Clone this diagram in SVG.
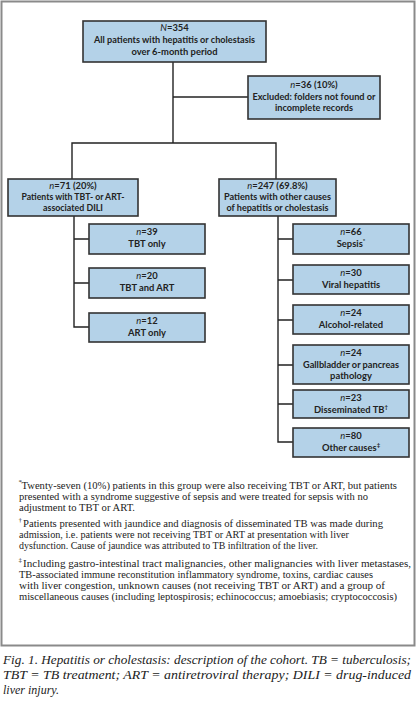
<svg xmlns="http://www.w3.org/2000/svg" width="417" height="709" viewBox="0 0 417 709">
<style>
.box{fill:#b4d2e8;stroke:#333;stroke-width:1.6}
.bt{font-family:Lato,"Liberation Sans",sans-serif;font-weight:700;font-size:9.4px;fill:#222;text-anchor:middle}
.it{font-style:italic;font-weight:400}
.sup{font-size:6px}
.con{fill:none;stroke:#222;stroke-width:1.4}
.fn{font-family:"Liberation Serif","Times New Roman",serif;font-size:10.4px;fill:#222}
.fs{font-family:"Liberation Serif",serif;font-size:7px;fill:#222}
.cap{font-family:"Liberation Serif","Times New Roman",serif;font-style:italic;font-size:13.2px;fill:#222}
</style>
<rect x="0" y="0" width="417" height="709" fill="#fff"/>
<rect x="1.5" y="1.5" width="413" height="644" fill="none" stroke="#8a8a8a" stroke-width="2"/>

<g id="connectors">
<path class="con" d="M173,62 V143"/>
<path class="con" d="M173,97 H248"/>
<path class="con" d="M72,179 V143 H276 V179"/>
<path class="con" d="M74,216 V327 H89 M74,239 H89 M74,283 H89"/>
<path class="con" d="M278,216 V442 H293 M278,239 H293 M278,280 H293 M278,320 H293 M278,365 H293 M278,404 H293"/>
</g>

<g id="n354">
<rect class="box" x="83" y="21" width="183" height="41"/>
<text class="bt" x="174.5" y="31"><tspan class="it">N</tspan>=354</text>
<text class="bt" x="174.5" y="43" textLength="161" lengthAdjust="spacingAndGlyphs">All patients with hepatitis or cholestasis</text>
<text class="bt" x="174.5" y="55" textLength="86" lengthAdjust="spacingAndGlyphs">over 6-month period</text>
</g>

<g id="excluded">
<rect class="box" x="248" y="76" width="132" height="43"/>
<text class="bt" x="314" y="88"><tspan class="it">n</tspan>=36 (10%)</text>
<text class="bt" x="314" y="100" textLength="123" lengthAdjust="spacingAndGlyphs">Excluded: folders not found or</text>
<text class="bt" x="314" y="111" textLength="78" lengthAdjust="spacingAndGlyphs">incomplete records</text>
</g>

<g id="dili">
<rect class="box" x="8" y="179" width="130" height="37"/>
<text class="bt" x="73" y="189"><tspan class="it">n</tspan>=71 (20%)</text>
<text class="bt" x="73" y="200" textLength="103" lengthAdjust="spacingAndGlyphs">Patients with TBT- or ART-</text>
<text class="bt" x="73" y="211" textLength="60" lengthAdjust="spacingAndGlyphs">associated DILI</text>
</g>

<g id="other">
<rect class="box" x="219" y="179" width="117" height="37"/>
<text class="bt" x="277.5" y="189"><tspan class="it">n</tspan>=247 (69.8%)</text>
<text class="bt" x="277.5" y="200" textLength="107" lengthAdjust="spacingAndGlyphs">Patients with other causes</text>
<text class="bt" x="277.5" y="211" textLength="102" lengthAdjust="spacingAndGlyphs">of hepatitis or cholestasis</text>
</g>

<g id="tbt-only">
<rect class="box" x="89" y="224" width="116" height="30"/>
<text class="bt" x="147" y="235"><tspan class="it">n</tspan>=39</text>
<text class="bt" x="147" y="247">TBT only</text>
</g>

<g id="tbt-art">
<rect class="box" x="89" y="268" width="116" height="30"/>
<text class="bt" x="147" y="279"><tspan class="it">n</tspan>=20</text>
<text class="bt" x="147" y="291">TBT and ART</text>
</g>

<g id="art-only">
<rect class="box" x="89" y="313" width="116" height="29"/>
<text class="bt" x="147" y="324"><tspan class="it">n</tspan>=12</text>
<text class="bt" x="147" y="336">ART only</text>
</g>

<g id="sepsis">
<rect class="box" x="293" y="224" width="116" height="30"/>
<text class="bt" x="351" y="235"><tspan class="it">n</tspan>=66</text>
<text class="bt" x="351" y="247">Sepsis<tspan class="sup" dy="-4">*</tspan></text>
</g>

<g id="viral">
<rect class="box" x="293" y="265" width="116" height="29"/>
<text class="bt" x="351" y="276"><tspan class="it">n</tspan>=30</text>
<text class="bt" x="351" y="288">Viral hepatitis</text>
</g>

<g id="alcohol">
<rect class="box" x="293" y="305" width="116" height="29"/>
<text class="bt" x="351" y="316"><tspan class="it">n</tspan>=24</text>
<text class="bt" x="351" y="328">Alcohol-related</text>
</g>

<g id="gallbladder">
<rect class="box" x="293" y="345" width="116" height="39"/>
<text class="bt" x="351" y="356"><tspan class="it">n</tspan>=24</text>
<text class="bt" x="351" y="368" textLength="96" lengthAdjust="spacingAndGlyphs">Gallbladder or pancreas</text>
<text class="bt" x="351" y="379">pathology</text>
</g>

<g id="disseminated">
<rect class="box" x="293" y="390" width="116" height="28"/>
<text class="bt" x="351" y="401"><tspan class="it">n</tspan>=23</text>
<text class="bt" x="351" y="413">Disseminated TB<tspan class="sup" dy="-4">†</tspan></text>
</g>

<g id="othercauses">
<rect class="box" x="293" y="428" width="116" height="29"/>
<text class="bt" x="351" y="439"><tspan class="it">n</tspan>=80</text>
<text class="bt" x="351" y="451">Other causes<tspan class="sup" dy="-4">‡</tspan></text>
</g>

<g id="footnotes">
<text class="fs" x="18.5" y="484">*</text>
<text class="fn" x="21.5" y="489" textLength="375.5" lengthAdjust="spacingAndGlyphs">Twenty-seven (10%) patients in this group were also receiving TBT or ART, but patients</text>
<text class="fn" x="19" y="500" textLength="349" lengthAdjust="spacingAndGlyphs">presented with a syndrome suggestive of sepsis and were treated for sepsis with no</text>
<text class="fn" x="19" y="511" textLength="116" lengthAdjust="spacingAndGlyphs">adjustment to TBT or ART.</text>
<text class="fs" x="18.5" y="522">†</text>
<text class="fn" x="23" y="527" textLength="360" lengthAdjust="spacingAndGlyphs">Patients presented with jaundice and diagnosis of disseminated TB was made during</text>
<text class="fn" x="19" y="538" textLength="330" lengthAdjust="spacingAndGlyphs">admission, i.e. patients were not receiving TBT or ART at presentation with liver</text>
<text class="fn" x="19" y="549" textLength="299" lengthAdjust="spacingAndGlyphs">dysfunction. Cause of jaundice was attributed to TB infiltration of the liver.</text>
<text class="fs" x="18.5" y="562">‡</text>
<text class="fn" x="23" y="567" textLength="388" lengthAdjust="spacingAndGlyphs">Including gastro-intestinal tract malignancies, other malignancies with liver metastases,</text>
<text class="fn" x="19" y="578" textLength="354" lengthAdjust="spacingAndGlyphs">TB-associated immune reconstitution inflammatory syndrome, toxins, cardiac causes</text>
<text class="fn" x="19" y="589" textLength="366" lengthAdjust="spacingAndGlyphs">with liver congestion, unknown causes (not receiving TBT or ART) and a group of</text>
<text class="fn" x="19" y="600" textLength="378" lengthAdjust="spacingAndGlyphs">miscellaneous causes (including leptospirosis; echinococcus; amoebiasis; cryptococcosis)</text>
</g>

<g id="caption">
<text class="cap" x="3" y="664" textLength="408" lengthAdjust="spacingAndGlyphs">Fig. 1. Hepatitis or cholestasis: description of the cohort. TB = tuberculosis;</text>
<text class="cap" x="3" y="679" textLength="408" lengthAdjust="spacingAndGlyphs">TBT = TB treatment; ART = antiretroviral therapy; DILI = drug-induced</text>
<text class="cap" x="3" y="694" textLength="56" lengthAdjust="spacingAndGlyphs">liver injury.</text>
</g>
</svg>
